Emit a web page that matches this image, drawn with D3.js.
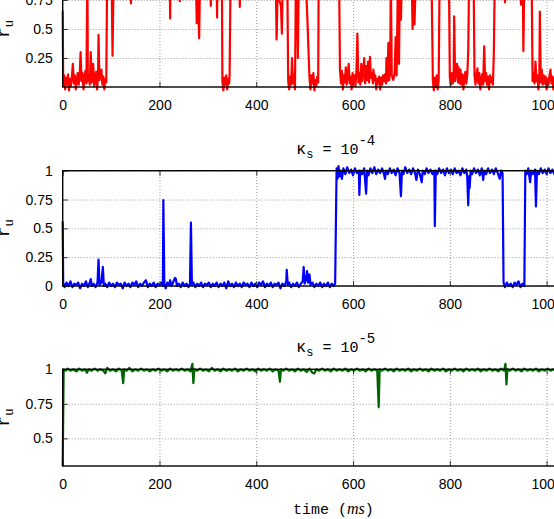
<!DOCTYPE html>
<html>
<head>
<meta charset="utf-8">
<script src="https://cdn.jsdelivr.net/npm/d3@7"></script>
<style>
  body { margin: 0; background: #fff; }
  svg { display: block; }
  .tick text { font-family: "Liberation Sans", Arial, sans-serif; font-size: 14px; fill: #000; }
  .grid line { stroke: #9a9a9a; stroke-dasharray: 1,2; }
  .grid path, .axis path { display: none; }
  .axis line { stroke: #333; }
  .mono { font-family: "Liberation Mono", "DejaVu Sans Mono", monospace; }
</style>
</head>
<body>
<div id="chart"></div>
<script>
// time (ms) ticks shared by the three panels
var timeTicks = [0, 200, 400, 600, 800, 1000];

// y ticks per panel
var yTicks1 = [0.25, 0.5, 0.75, 1];
var yTicks2 = [0, 0.25, 0.5, 0.75, 1];
var yTicks3 = [0.5, 0.75, 1];

// kappa_s exponents (top panel title is outside the picture)
var kappaExp = [null, "-4", "-5"];

// r_u, top panel (red) [time, value]
var redRu = [
  [0,0.66],[1,0.04],[3,0.1],[5,-0.02],[7,0.08],[9,0.02],[11,0.11],[13,-0.03],[15,0.07],[17,0.01],[19,0.09],
  [21,0.2],[23,0.03],[25,0.1],[27,-0.02],[29,0.06],[31,0.12],[33,0.02],[35,0.09],[37,0.3],[39,0.05],[41,0.12],
  [43,-0.02],[45,0.08],[47,0.14],[49,0.03],[51,1.0],[52,0.05],[54,0.1],[56,0.02],[58,0.3],[60,0.04],[62,0.11],
  [63,0.2],[65,0.01],[67,0.09],[69,0.13],[71,-0.02],[73,0.08],[74,0.45],[76,0.06],[78,0.1],[80,0.15],[82,0.02],
  [84,0.09],[86,-0.02],[88,0.07],[90,0.04],[92,1.0],[97,0.98],[101,1.0],[103,0.27],[105,0.9],[107,1.0],
  [140,1.0],[141,0.72],[142,1.0],[221,1.0],[222,0.59],[223,1.0],[241,1.0],[242,0.74],[243,1.0],[275,1.0],
  [277,0.55],[279,0.9],[282,0.42],[284,1.0],[305,1.0],[306,0.7],[307,1.0],[318,1.0],[319,0.6],[320,1.0],[329,1.0],
  [330,0.05],[332,-0.03],[334,0.08],[336,0.02],[338,0.1],[340,-0.02],[342,0.07],[344,0.03],[345,0.12],[347,1.0],
  [365,1.0],[366,0.69],[367,1.0],[440,1.0],[442,0.41],[444,0.8],[451,0.7],[453,0.46],[455,1.0],[464,1.0],
  [466,0.05],[468,-0.02],[470,0.09],[472,0.02],[474,0.25],[476,0.03],[478,0.1],[480,-0.02],[482,1.0],[484,0.9],
  [486,0.25],[488,1.0],[502,1.0],[504,0.75],[506,0.55],[508,0.3],[510,0.08],[512,-0.02],[514,0.1],[516,0.03],
  [518,0.12],[520,-0.03],[522,0.06],[524,0.01],[526,0.09],[528,0.04],[529,1.0],[571,1.0],
  [573,0.15],[575,0.03],[577,0.14],[579,-0.02],[581,0.1],[583,0.04],[585,0.17],[587,0.02],[589,0.11],[591,0.2],
  [593,0.03],[595,0.09],[597,-0.02],[599,0.12],[601,0.05],[603,0.1],[605,0.01],[607,0.14],[609,0.46],[611,0.04],
  [613,0.12],[615,0.02],[617,0.2],[619,0.05],[621,0.13],[623,0.25],[625,0.03],[627,0.18],[629,0.06],[631,0.22],
  [633,0.04],[635,0.26],[637,0.08],[639,0.12],[641,0.03],[642,0.15],[644,0.06],[646,0.1],[648,-0.02],[650,0.07],
  [652,0.03],[654,0.09],[656,-0.02],[658,0.08],[660,0.02],[662,0.1],[664,0.05],[666,0.11],[668,0.03],[669,0.25],
  [671,0.05],[673,0.38],[675,0.06],[677,0.3],[678,1.0],[680,0.1],[683,0.06],[686,0.12],[688,0.43],[690,0.1],
  [693,1.0],[695,0.2],[697,1.0],[699,0.58],[701,1.0],[721,1.0],[723,0.5],[725,1.0],[727,0.54],[730,1.0],[762,1.0],
  [765,0.05],[767,-0.03],[769,0.08],[771,0.0],[773,0.1],[775,-0.02],[777,0.06],[779,1.0],[798,1.0],
  [800,0.08],[802,0.02],[804,0.12],[806,0.03],[808,0.1],[809,0.61],[811,0.05],[813,0.14],[815,0.2],[817,0.04],
  [818,0.17],[820,0.03],[822,0.15],[824,0.02],[826,0.11],[828,-0.02],[830,0.08],[832,0.13],[834,0.03],[836,0.1],
  [838,0.3],[840,1.0],[842,0.9],[844,1.0],[849,1.0],
  [851,0.1],[853,0.02],[855,0.09],[857,0.16],[859,0.03],[861,0.12],[863,-0.02],[865,0.07],[867,0.11],[869,0.02],
  [871,0.35],[873,0.05],[875,0.12],[877,0.02],[879,0.09],[881,-0.02],[883,0.1],[885,0.04],[887,0.08],[889,0.02],
  [891,0.3],[893,1.0],[913,1.0],[914,0.73],[915,1.0],[946,1.0],[947,0.71],[949,1.0],[951,0.8],[952,0.31],
  [954,1.0],[969,1.0],
  [971,0.05],[973,0.12],[975,0.03],[977,0.22],[979,0.05],[981,0.1],[983,-0.02],[985,0.08],[986,0.65],[988,0.04],
  [990,0.15],[992,0.02],[994,0.1],[996,0.03],[998,0.09],[1000,-0.02],[1002,0.07],[1004,0.02],[1006,0.1],
  [1008,0.15],[1010,0.03],[1012,0.09],[1014,-0.02],[1016,0.08],[1018,0.02],[1020,0.1],[1022,0.04],[1024,0.08]
];

// r_u, middle panel (blue), kappa_s = 1e-4
var blueRu = [
  [0,0.56],[1,0.03],[4,-0.01],[8,0.03],[12,0.0],[16,0.04],[20,-0.01],[24,0.02],[28,0.01],[32,0.03],[36,-0.02],
  [40,0.02],[44,0.0],[48,0.04],[52,-0.01],[56,0.03],[58,0.06],[60,0.0],[64,0.02],[68,-0.01],[72,0.03],[74,0.23],
  [76,0.01],[80,0.03],[83,0.165],[85,0.0],[88,0.02],[92,-0.01],[96,0.03],[100,0.0],[104,0.02],[108,-0.01],
  [112,0.03],[116,0.01],[120,0.02],[124,-0.02],[128,0.03],[132,0.0],[136,0.02],[140,-0.01],[144,0.03],[148,0.01],
  [152,0.04],[156,-0.01],[160,0.02],[164,0.0],[168,0.03],[172,0.05],[176,-0.01],[180,0.02],[184,0.0],[188,0.03],
  [192,-0.01],[196,0.02],[200,0.01],[204,0.03],[207,0.0],[208,0.745],[210,0.02],[213,-0.02],[216,0.03],[220,0.01],
  [222,0.05],[225,0.0],[228,0.03],[232,0.07],[234,0.06],[236,0.0],[240,0.02],[244,-0.01],[248,0.03],[252,0.0],
  [256,0.02],[260,-0.01],[263,0.02],[265,0.55],[267,0.01],[270,0.03],[274,-0.01],[278,0.02],[282,0.0],[286,0.03],
  [290,-0.01],[294,0.02],[298,0.01],[302,0.03],[306,-0.01],[310,0.02],[314,0.0],[318,0.03],[322,-0.01],[326,0.02],
  [330,0.0],[334,0.03],[338,-0.02],[342,0.04],[346,0.0],[350,0.02],[354,-0.01],[358,0.03],[362,0.0],[366,0.02],
  [370,-0.01],[374,0.03],[378,0.01],[382,0.02],[386,-0.01],[390,0.03],[394,0.0],[398,0.02],[402,-0.01],[406,0.03],
  [410,0.01],[414,0.04],[418,-0.01],[422,0.02],[426,0.0],[430,0.03],[434,-0.01],[438,0.02],[442,0.01],[446,0.03],
  [450,-0.02],[454,0.02],[458,0.0],[462,0.04],[463,0.14],[465,0.01],[468,0.03],[472,-0.01],[476,0.02],[480,0.0],
  [484,0.03],[488,-0.01],[492,0.02],[496,0.04],[498,0.165],[500,0.02],[503,0.06],[505,0.13],[507,0.03],[510,0.1],
  [512,0.01],[516,0.03],[520,-0.01],[524,0.02],[528,0.0],[532,0.03],[536,-0.01],[540,0.02],[544,0.0],[548,0.03],
  [552,-0.01],[556,0.02],[560,0.0],[563,0.02],
  [566,1.02],[568,0.93],[570,1.04],[572,0.95],[574,1.0],[577,0.93],[580,1.02],[584,0.97],[588,1.03],[592,0.98],
  [596,1.01],[600,0.96],[604,1.02],[608,0.98],[612,1.0],[613,0.79],[615,1.0],[619,0.97],[623,1.02],[627,0.8],
  [629,1.0],[632,0.96],[636,1.02],[640,0.98],[644,1.03],[648,0.97],[652,1.01],[656,0.98],[660,1.02],[664,0.97],
  [666,0.93],[668,1.0],[672,0.97],[676,1.02],[680,0.98],[684,1.01],[688,0.96],[692,1.02],[696,0.98],[699,0.78],
  [701,1.0],[704,0.97],[708,1.03],[712,0.98],[716,1.01],[720,0.97],[724,1.02],[728,0.98],[731,0.92],[734,1.01],
  [738,0.97],[742,0.9],[744,1.0],[748,0.97],[752,1.02],[756,0.98],[760,1.01],[764,0.97],[768,1.0],[769,0.52],
  [771,1.0],[774,0.97],[778,1.02],[782,0.98],[786,1.01],[790,0.96],[794,1.02],[798,0.98],[802,1.01],[806,0.97],
  [810,1.02],[814,0.98],[818,1.0],[822,0.96],[826,1.02],[830,0.98],[834,1.01],[836,0.95],[838,0.7],[840,0.95],
  [841,0.85],[843,1.0],[846,0.97],[850,1.02],[854,0.98],[858,1.01],[862,0.96],[866,1.02],[869,0.92],[871,1.0],
  [875,0.97],[879,1.02],[883,0.98],[887,1.01],[891,0.97],[895,1.02],[899,0.98],[903,0.93],[906,1.0],[909,0.98],
  [911,0.03],[914,-0.01],[918,0.03],[922,0.0],[926,0.02],[930,-0.01],[934,0.03],[938,0.01],[942,0.04],[946,-0.01],
  [950,0.02],[954,0.0],
  [956,1.0],[959,0.97],[962,1.02],[966,0.9],[968,1.0],[972,0.97],[976,1.01],[978,0.69],[980,1.0],[984,0.97],
  [988,1.02],[992,0.98],[996,1.01],[1000,0.97],[1004,1.02],[1008,0.98],[1012,1.01],[1016,0.97],[1020,1.02],
  [1024,0.98],[1028,1.0]
];

// r_u, bottom panel (green), kappa_s = 1e-5
var greenRu = [
  [0,0.3],[2,1.0],[6,0.99],[10,1.005],[16,0.99],[22,1.0],[28,0.985],[34,1.005],[40,0.99],[46,1.0],[50,0.975],
  [54,1.0],[60,0.99],[66,1.005],[72,0.99],[78,1.0],[84,0.99],[88,0.97],[92,1.01],[98,0.99],[104,1.0],[110,0.985],
  [116,1.005],[122,0.99],[125,0.9],[127,1.0],[132,0.99],[138,1.01],[144,0.985],[150,1.0],[156,0.99],[162,1.005],
  [168,0.99],[174,1.0],[180,0.985],[186,1.0],[192,0.99],[198,1.005],[204,0.99],[210,1.0],[216,0.985],[222,1.005],
  [228,0.99],[234,1.0],[240,0.99],[246,1.005],[252,0.99],[258,1.0],[264,0.985],[268,1.04],[270,0.9],[272,1.0],
  [278,0.99],[284,1.005],[290,0.99],[296,1.0],[302,0.985],[308,1.01],[314,0.99],[320,1.0],[326,0.985],[332,1.005],
  [338,0.99],[344,1.0],[350,0.99],[356,1.005],[362,0.985],[368,1.0],[374,0.99],[380,1.005],[386,0.99],[392,1.0],
  [398,0.985],[404,1.005],[410,0.99],[416,1.0],[422,0.99],[428,1.005],[434,0.985],[440,1.0],[446,0.99],[449,0.91],
  [451,1.0],[456,0.99],[462,1.005],[468,0.99],[474,1.0],[480,0.985],[486,1.005],[492,0.99],[498,1.0],[504,0.98],
  [510,1.005],[516,0.975],[520,0.97],[524,1.0],[530,0.99],[536,1.005],[542,0.99],[548,1.0],[554,0.985],[560,1.005],
  [566,0.99],[572,1.0],[578,0.99],[584,1.005],[590,0.985],[596,1.0],[602,0.99],[608,1.005],[614,0.99],[620,1.0],
  [626,0.985],[632,1.005],[638,0.99],[644,1.0],[650,0.99],[653,0.725],[655,1.0],[660,0.99],[666,1.005],[672,0.99],
  [678,1.0],[684,0.985],[690,1.005],[696,0.99],[702,1.0],[708,0.99],[714,1.005],[720,0.985],[726,1.0],[732,0.99],
  [738,1.005],[744,0.99],[750,1.0],[756,0.985],[762,1.005],[768,0.99],[774,1.0],[780,0.99],[786,1.005],[792,0.985],
  [798,1.0],[804,0.99],[810,1.005],[816,0.99],[822,1.0],[828,0.985],[834,1.005],[840,0.99],[846,1.0],[852,0.99],
  [858,1.005],[864,0.985],[870,1.0],[876,0.99],[882,1.005],[888,0.99],[894,1.0],[900,0.985],[906,1.005],[912,0.99],
  [915,1.04],[917,0.89],[919,1.0],[924,0.99],[930,1.005],[936,0.99],[942,1.0],[948,0.985],[954,1.005],[960,0.99],
  [966,1.0],[972,0.99],[978,1.005],[984,0.985],[990,1.0],[996,0.99],[1002,1.005],[1008,0.99],[1014,1.0],
  [1020,0.985],[1026,1.0]
];

var width = 554, height = 519;
var left = 62.7, right = 595;

var svg = d3.select("#chart").append("svg")
    .attr("width", width)
    .attr("height", height);

var x = d3.scaleLinear().domain([0, 1100]).range([left, right]);

// layout of the three stacked panels
var panels = [
  {data: redRu,   color: "#ff0000", top: -29,   bottom: 87,  yDomain: [0, 1],   ticks: yTicks1, exp: kappaExp[0]},
  {data: blueRu,  color: "#0000ff", top: 170.7, bottom: 286, yDomain: [0, 1],   ticks: yTicks2, exp: kappaExp[1]},
  {data: greenRu, color: "#006400", top: 369.3, bottom: 466, yDomain: [0.3, 1], ticks: yTicks3, exp: kappaExp[2]}
];

panels.forEach(function(p) {
  var y = d3.scaleLinear().domain(p.yDomain).range([p.bottom, p.top]);
  var h = p.bottom - p.top;
  var g = svg.append("g");

  // dotted grid
  g.append("g").attr("class", "grid")
      .attr("transform", "translate(0," + p.bottom + ")")
      .call(d3.axisBottom(x).tickValues(timeTicks.slice(1)).tickSize(-h).tickFormat(""));
  g.append("g").attr("class", "grid")
      .attr("transform", "translate(" + left + ",0)")
      .call(d3.axisLeft(y).tickValues(p.ticks).tickSize(-(right - left)).tickFormat(""));

  // the signal
  var line = d3.line()
      .x(function(d) { return x(d[0]); })
      .y(function(d) { return y(d[1]); });
  g.append("path")
      .datum(p.data)
      .attr("d", line)
      .attr("fill", "none")
      .attr("stroke", p.color)
      .attr("stroke-width", 2.2)
      .attr("stroke-linejoin", "round");

  // axes with inward ticks
  g.append("g").attr("class", "axis")
      .attr("transform", "translate(0," + p.bottom + ")")
      .call(d3.axisBottom(x).tickValues(timeTicks).tickSizeInner(-5).tickSizeOuter(0)
            .tickPadding(12.6).tickFormat(d3.format("d")));
  g.append("g").attr("class", "axis")
      .attr("transform", "translate(0," + p.top + ")")
      .call(d3.axisTop(x).tickValues(timeTicks).tickSizeInner(-5).tickSizeOuter(0).tickFormat(""));
  g.append("g").attr("class", "axis")
      .attr("transform", "translate(" + left + ",0)")
      .call(d3.axisLeft(y).tickValues(p.ticks).tickSizeInner(-5).tickSizeOuter(0)
            .tickPadding(10).tickFormat(function(d) { return String(d); }));

  // frame
  g.append("rect")
      .attr("x", left).attr("y", p.top)
      .attr("width", right - left).attr("height", h)
      .attr("fill", "none").attr("stroke", "#000").attr("stroke-width", 1.4);

  // y label r_u
  var yl = g.append("text").attr("class", "mono")
      .attr("transform", "translate(9," + (p.top + h / 2) + ") rotate(-90)")
      .attr("text-anchor", "middle")
      .style("font-size", "18px");
  yl.append("tspan").text("r");
  yl.append("tspan").attr("dy", 4).style("font-size", "12px").text("u");

  // title kappa_s = 10^exp
  if (p.exp) {
    var t = g.append("text").attr("class", "mono")
        .attr("x", 296).attr("y", p.top - 17)
        .style("font-size", "15px");
    t.append("tspan").style("font-size", "17px").text("\u03ba");
    t.append("tspan").attr("dy", 4).style("font-size", "12px").text("s");
    t.append("tspan").attr("dy", -4).text(" = 10");
    t.append("tspan").attr("dy", -9).style("font-size", "14px").text(p.exp);
  }
});

// x axis title
var xt = svg.append("text").attr("class", "mono")
    .attr("x", 293).attr("y", 514)
    .style("font-size", "15px");
xt.append("tspan").text("time (");
xt.append("tspan").style("font-family", "'Liberation Serif', serif").style("font-style", "italic")
    .style("font-size", "16px").text("ms");
xt.append("tspan").text(")");
</script>
</body>
</html>
